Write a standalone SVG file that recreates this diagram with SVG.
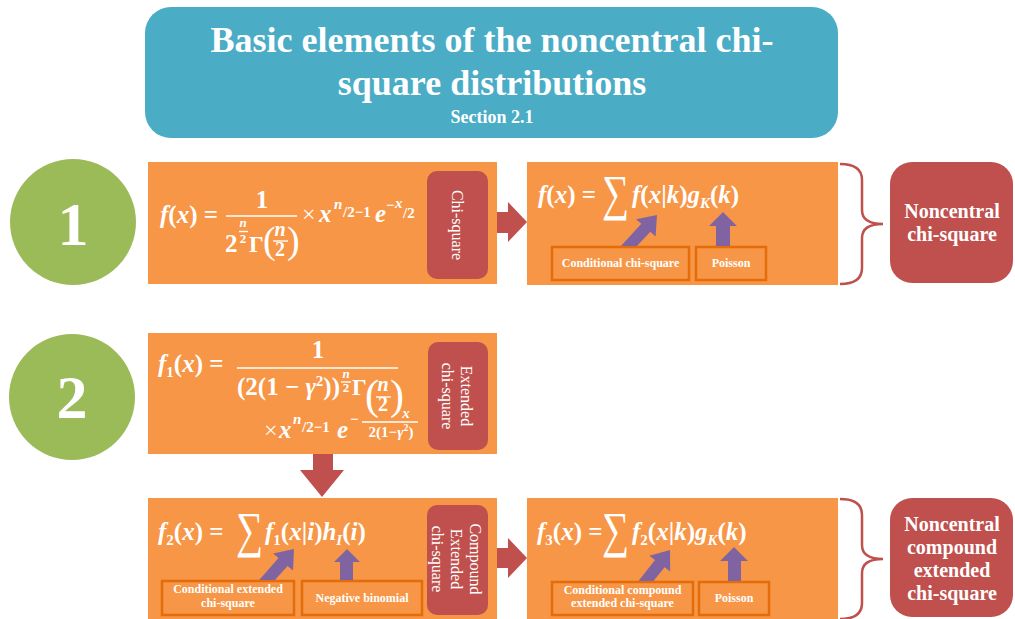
<svg xmlns="http://www.w3.org/2000/svg" width="1015" height="619" viewBox="0 0 1015 619">
<style>
.or{fill:#F79646}
.rd{fill:#C0504D}
.lb{fill:#F79646;stroke:#E46C0A;stroke-width:2.5}
.t{fill:#fff;font-family:"Liberation Serif",serif}
.b{font-weight:bold}
.m{fill:#fff;font-family:"Liberation Serif",serif;font-weight:bold;font-size:25px}
.i{font-style:italic}
.sm{font-size:15px}
.nw{font-weight:normal}
.sg{fill:#fff;font-family:"Liberation Serif","DejaVu Serif",serif;font-size:50px}
.fl{stroke:#fff;stroke-width:1.4}
.pu{fill:#8064A2}
.ra{fill:#C0504D}
.br{fill:none;stroke:#C0504D;stroke-width:2.5}
.lt{fill:#fff;font-family:"Liberation Serif",serif;font-weight:bold;font-size:12px;text-anchor:middle}
.vt{fill:#fff;font-family:"Liberation Serif",serif;font-size:16px;text-anchor:middle}
.rt{fill:#fff;font-family:"Liberation Serif",serif;font-weight:bold;font-size:20px;text-anchor:middle}
</style>

<g id="title">
<rect x="145" y="7" width="693" height="131" rx="26" fill="#4BACC6"/>
<text class="t b" x="492" y="52" font-size="36" text-anchor="middle">Basic elements of the noncentral chi-</text>
<text class="t b" x="492" y="95" font-size="36" text-anchor="middle">square distributions</text>
<text class="t b" x="492" y="123" font-size="18" text-anchor="middle">Section 2.1</text>
</g>

<g id="step1">
<circle cx="73" cy="222" r="63" fill="#9BBB59"/>
<text class="t b" x="73" y="245" font-size="62" text-anchor="middle">1</text>
</g>

<g id="step2">
<circle cx="72" cy="397" r="63" fill="#9BBB59"/>
<text class="t b" x="72" y="418" font-size="62" text-anchor="middle">2</text>
</g>

<g id="chisquare">
<rect class="or" x="148" y="162" width="349" height="122"/>
<text class="m" x="160" y="223"><tspan class="i">f</tspan>(<tspan class="i">x</tspan>) =</text>
<text class="m" x="262" y="208" text-anchor="middle">1</text>
<line class="fl" x1="226" y1="216" x2="297" y2="216"/>
<text class="m" x="225" y="252">2</text>
<text class="m i" x="243" y="227" text-anchor="middle" style="font-size:13px">n</text>
<line class="fl" x1="239" y1="231.5" x2="248" y2="231.5" stroke-width="1"/>
<text class="m" x="243" y="243" text-anchor="middle" style="font-size:13px">2</text>
<text class="m" x="249" y="252" style="font-size:23px">Γ</text>
<text class="m nw" x="263" y="253" style="font-size:38px">(</text>
<text class="m i" x="280" y="236" text-anchor="middle" style="font-size:20px">n</text>
<line class="fl" x1="273" y1="241" x2="288" y2="241"/>
<text class="m" x="280" y="256" text-anchor="middle" style="font-size:20px">2</text>
<text class="m nw" x="287" y="253" style="font-size:38px">)</text>
<text class="m nw" x="302" y="222" style="font-size:24px">×</text>
<text class="m i" x="319" y="222">x</text>
<text class="m i sm" x="334" y="209">n</text>
<text class="m sm" x="343" y="217">/2−1</text>
<text class="m i" x="375" y="222">e</text>
<text class="m sm" x="386" y="210">−</text>
<text class="m i sm" x="395" y="208">x</text>
<text class="m sm" x="403" y="218">/2</text>
<rect class="rd" x="427" y="171" width="61" height="108" rx="10"/>
<text class="vt" transform="translate(457,225) rotate(90)" y="5.5">Chi-square</text>
</g>

<g id="noncentral">
<rect class="or" x="527" y="162" width="311" height="123"/>
<text class="m" x="538" y="203"><tspan class="i">f</tspan>(<tspan class="i">x</tspan>) =</text>
<text class="sg" transform="translate(602,210) scale(0.76,1)">∑</text>
<text class="m" x="632" y="203"><tspan class="i">f</tspan>(<tspan class="i">x</tspan>|<tspan class="i">k</tspan>)<tspan class="i">g</tspan><tspan class="sm i" dy="5">K</tspan><tspan dy="-5">(</tspan><tspan class="i">k</tspan>)</text>
<rect class="lb" x="552" y="247" width="137" height="33"/>
<text class="lt" x="620.5" y="267">Conditional chi-square</text>
<rect class="lb" x="696" y="247" width="70" height="33"/>
<text class="lt" x="731" y="267">Poisson</text>
</g>

<g id="noncentral-label">
<rect class="rd" x="890" y="162" width="123" height="121" rx="22"/>
<text class="rt" x="952" y="218">Noncentral</text>
<text class="rt" x="952" y="241">chi-square</text>
</g>

<g id="extended">
<rect class="or" x="148" y="333" width="349" height="121"/>
<text class="m" x="158" y="372"><tspan class="i">f</tspan><tspan class="sm" dy="5">1</tspan><tspan dy="-5">(</tspan><tspan class="i">x</tspan>) =</text>
<text class="m" x="318" y="358" text-anchor="middle">1</text>
<line class="fl" x1="237" y1="368" x2="398" y2="368"/>
<text class="m" x="237" y="395">(2(1 − <tspan class="i">γ</tspan><tspan class="sm" dy="-9">2</tspan><tspan dy="9">))</tspan></text>
<text class="m i" x="346" y="378" text-anchor="middle" style="font-size:13px">n</text>
<line class="fl" x1="341" y1="382" x2="351" y2="382" stroke-width="1"/>
<text class="m" x="346" y="392" text-anchor="middle" style="font-size:13px">2</text>
<text class="m" x="352" y="395" style="font-size:23px">Γ</text>
<text class="m nw" x="365" y="409" style="font-size:42px">(</text>
<text class="m i" x="383" y="391" text-anchor="middle" style="font-size:20px">n</text>
<line class="fl" x1="376" y1="397" x2="391" y2="397"/>
<text class="m" x="383" y="411" text-anchor="middle" style="font-size:20px">2</text>
<text class="m nw" x="390" y="409" style="font-size:42px">)</text>
<text class="m nw" x="264" y="438" style="font-size:24px">×</text>
<text class="m i" x="279" y="438">x</text>
<text class="m i sm" x="293" y="424">n</text>
<text class="m sm" x="302" y="432">/2−1</text>
<text class="m i" x="337" y="438">e</text>
<text class="m sm" x="350" y="424">−</text>
<text class="m i sm" x="406" y="418" text-anchor="middle">x</text>
<line class="fl" x1="362" y1="422" x2="418" y2="422" stroke-width="1"/>
<text class="m sm" x="391" y="437" text-anchor="middle">2(1−<tspan class="i">γ</tspan><tspan style="font-size:10px" dy="-6">2</tspan><tspan dy="6">)</tspan></text>
<rect class="rd" x="428" y="342" width="60" height="108" rx="10"/>
<text class="vt" transform="translate(457,396) rotate(90)"><tspan x="0" y="-3.5">Extended</tspan><tspan x="0" y="15.5">chi-square</tspan></text>
</g>

<g id="compound">
<rect class="or" x="148" y="498" width="349" height="125"/>
<text class="m" x="158" y="540"><tspan class="i">f</tspan><tspan class="sm" dy="5">2</tspan><tspan dy="-5">(</tspan><tspan class="i">x</tspan>) =</text>
<text class="sg" transform="translate(236,547) scale(0.76,1)">∑</text>
<text class="m" x="265" y="540"><tspan class="i">f</tspan><tspan class="sm" dy="5">1</tspan><tspan dy="-5">(</tspan><tspan class="i">x</tspan>|<tspan class="i">i</tspan>)<tspan class="i">h</tspan><tspan class="sm i" dy="5">I</tspan><tspan dy="-5">(</tspan><tspan class="i">i</tspan>)</text>
<rect class="lb" x="162" y="581" width="132" height="34"/>
<text class="lt" x="228" y="593">Conditional extended</text>
<text class="lt" x="228" y="607">chi-square</text>
<rect class="lb" x="302" y="581" width="120" height="34"/>
<text class="lt" x="362" y="602">Negative binomial</text>
<rect class="rd" x="427" y="505" width="61" height="110" rx="10"/>
<text class="vt" transform="translate(457,559) rotate(90)"><tspan x="0" y="-12.5">Compound</tspan><tspan x="0" y="6.5">Extended</tspan><tspan x="0" y="25.5">chi-square</tspan></text>
</g>

<g id="noncentral-compound">
<rect class="or" x="527" y="498" width="311" height="125"/>
<text class="m" x="537" y="540"><tspan class="i">f</tspan><tspan class="sm" dy="5">3</tspan><tspan dy="-5">(</tspan><tspan class="i">x</tspan>) =</text>
<text class="sg" transform="translate(602,547) scale(0.76,1)">∑</text>
<text class="m" x="632" y="540"><tspan class="i">f</tspan><tspan class="sm" dy="5">2</tspan><tspan dy="-5">(</tspan><tspan class="i">x</tspan>|<tspan class="i">k</tspan>)<tspan class="i">g</tspan><tspan class="sm i" dy="5">K</tspan><tspan dy="-5">(</tspan><tspan class="i">k</tspan>)</text>
<rect class="lb" x="552" y="582" width="141" height="33"/>
<text class="lt" x="622.5" y="594">Conditional compound</text>
<text class="lt" x="622.5" y="607">extended chi-square</text>
<rect class="lb" x="699" y="582" width="70" height="33"/>
<text class="lt" x="734" y="602">Poisson</text>
</g>

<g id="noncentral-compound-label">
<rect class="rd" x="890" y="498" width="123" height="119" rx="22"/>
<text class="rt" x="952" y="531">Noncentral</text>
<text class="rt" x="952" y="554">compound</text>
<text class="rt" x="952" y="577">extended</text>
<text class="rt" x="952" y="600">chi-square</text>
</g>

<g id="connectors">
<polygon class="ra" points="497,212 508,212 508,202 527,222 508,242 508,233 497,233"/>
<polygon class="ra" points="313,454 333,454 333,470 344,470 322,497 300,470 313,470"/>
<polygon class="ra" points="497,548 508,548 508,538 527,558 508,578 508,568 497,568"/>
<polygon class="pu" points="621,246 641.3,223.8 636,219.2 657,215 655.6,236.4 650.3,231.8 637,246"/>
<polygon class="pu" points="716,246 716,226 709,226 723,212 737,226 730,226 730,246"/>
<polygon class="pu" points="259.2,580 278.5,558.1 273.1,553.6 294,549 293,570.4 287.6,565.9 274.9,580"/>
<polygon class="pu" points="340,580 340,562 334,562 347,549 360,562 353,562 353,580"/>
<polygon class="pu" points="638.5,581 655,560 649.4,555.8 670,550 670.2,571.4 664.6,567.2 653.5,581"/>
<polygon class="pu" points="728,581 728,561 720,561 734,547 748,561 741,561 741,581"/>
<path class="br" d="M840,164 C852,164 862,168 862,180 L862,210 C862,220 870,224 883,224 C870,224 862,228 862,238 L862,268 C862,280 852,284 840,284"/>
<path class="br" d="M840,499 C852,499 862,503 862,515 L862,545 C862,555 870,559 883,559 C870,559 862,563 862,573 L862,603 C862,615 852,619 840,619"/>
</g>
</svg>
